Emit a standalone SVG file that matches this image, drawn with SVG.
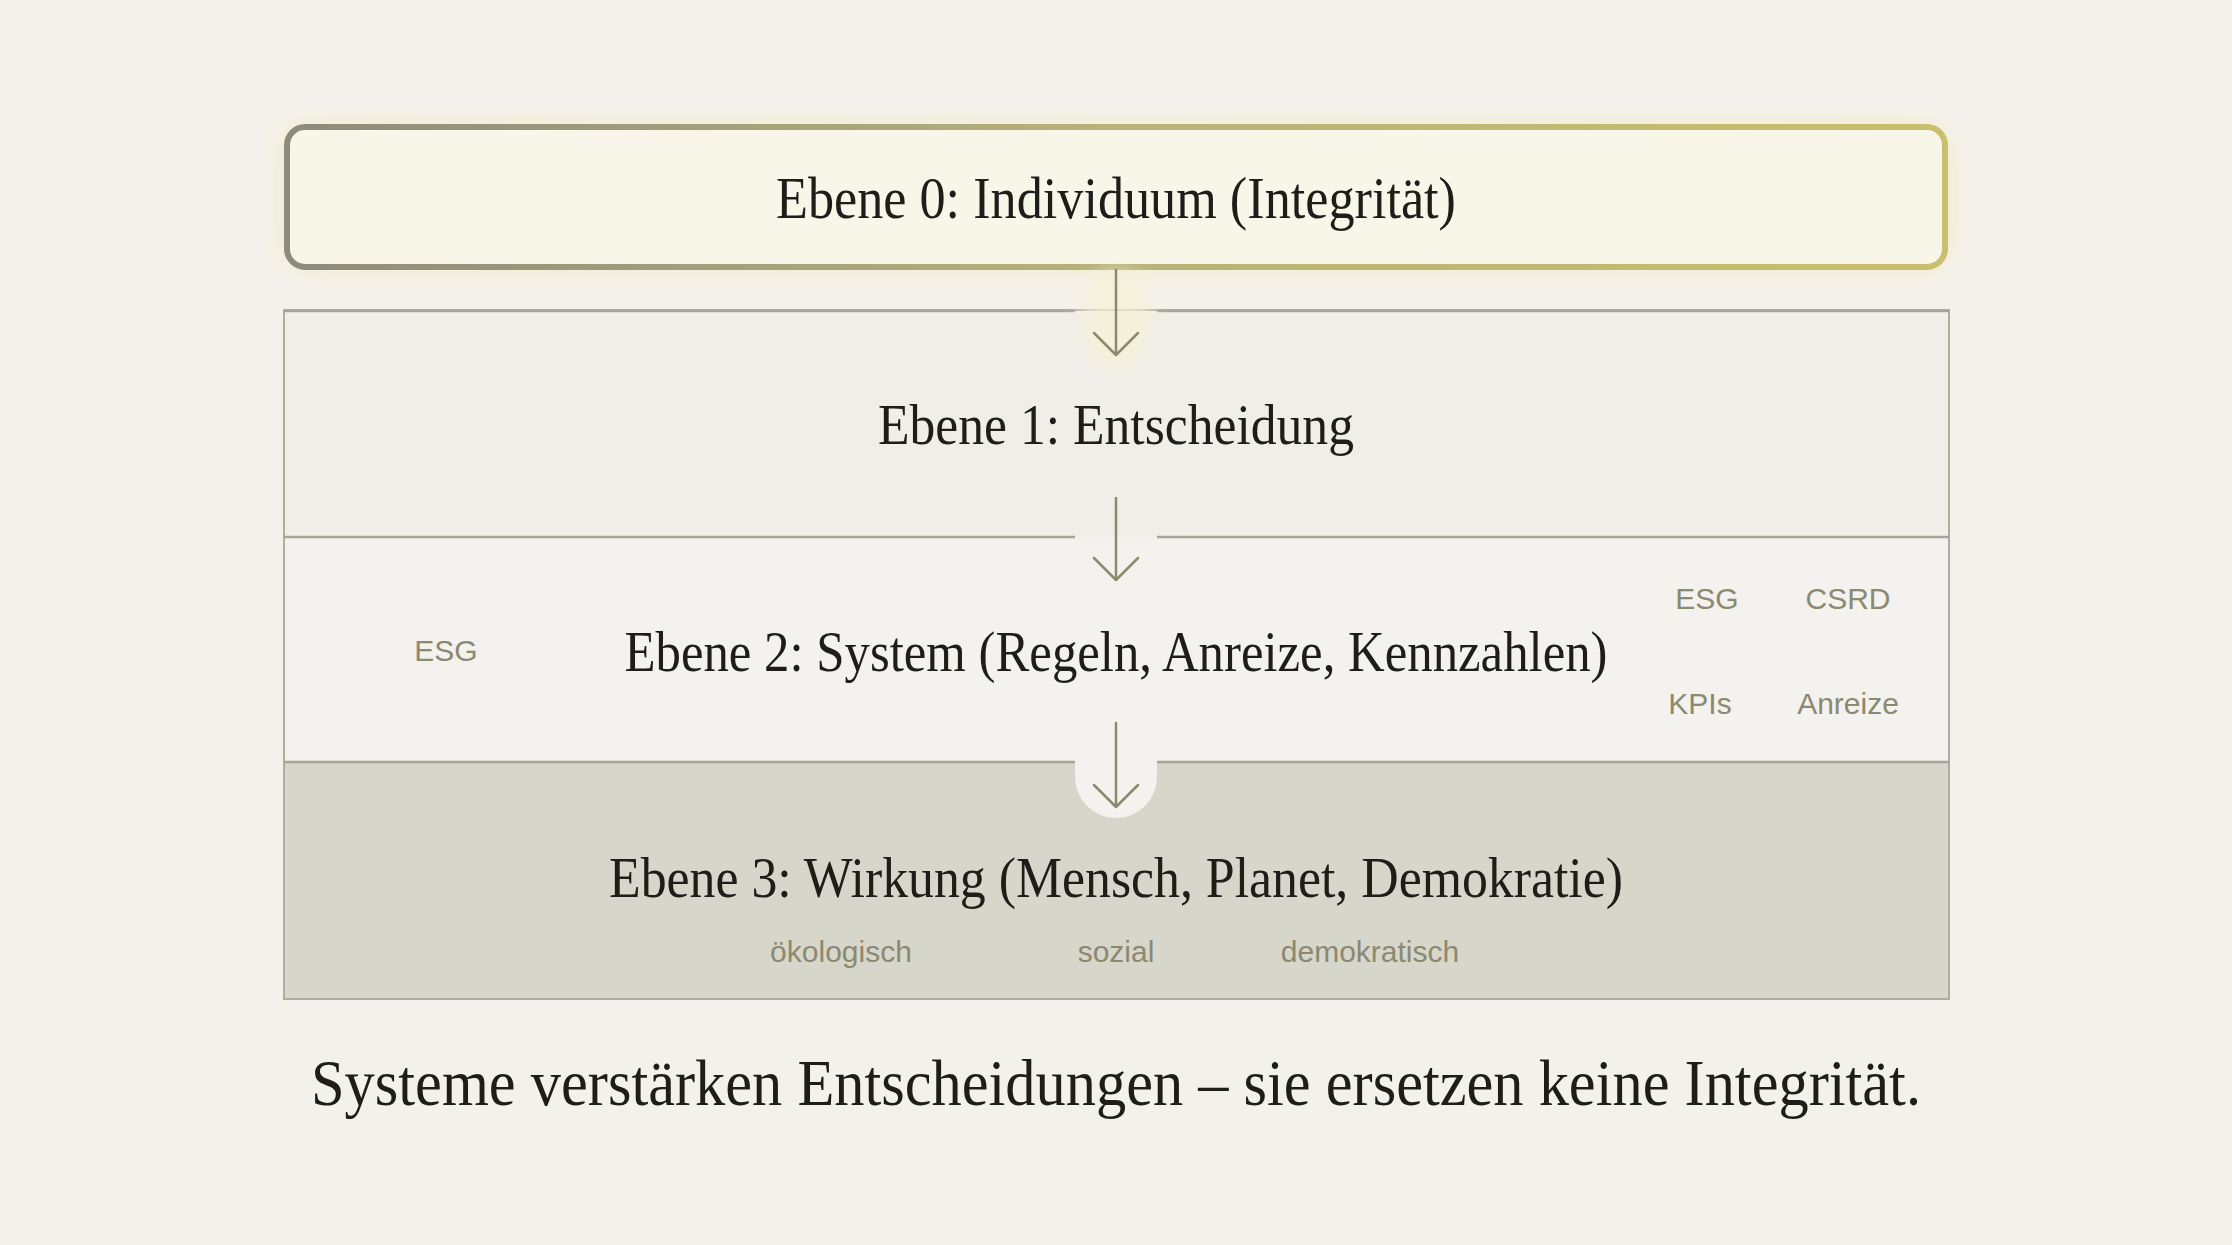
<svg xmlns="http://www.w3.org/2000/svg" width="2232" height="1245" viewBox="0 0 2232 1245">
<defs>
<style>
.title{font-family:"Liberation Serif","DejaVu Serif",serif;fill:#1d1d19;text-anchor:middle}
.tag{font-family:"Liberation Sans",Arial,sans-serif;font-size:30px;fill:#8b8970;text-anchor:middle}
.div{stroke:#a6a59a;stroke-width:2.5;fill:none}
.arrow{stroke:#8c8a6c;stroke-width:2.5;fill:none;stroke-linecap:round;stroke-linejoin:round}
</style>
<linearGradient id="topStroke" x1="0" y1="0" x2="1" y2="0">
<stop offset="0" stop-color="#8c8c7c"/>
<stop offset="0.5" stop-color="#b8b27a"/>
<stop offset="1" stop-color="#c9bf6c"/>
</linearGradient>
<filter id="glow" x="-10%" y="-60%" width="120%" height="220%">
<feGaussianBlur stdDeviation="14"/>
</filter>
<filter id="halo" x="-100%" y="-100%" width="300%" height="300%">
<feGaussianBlur stdDeviation="10"/>
</filter>
</defs>
<rect width="2232" height="1245" fill="#f3f1ec"/>

<g id="stack">
<rect x="284" y="310" width="1665" height="227" fill="#efeee9"/>
<rect x="284" y="537" width="1665" height="225" fill="#f3f2ee"/>
<rect x="284" y="762" width="1665" height="237" fill="#d7d6cb"/>
<rect x="284" y="310" width="1665" height="689" fill="none" stroke="#aeada2" stroke-width="2"/>
</g>

<g id="level0">
<rect x="285" y="127" width="1662" height="140" rx="20" fill="#f2e9a0" opacity="0.55" filter="url(#glow)"/>
<rect x="287" y="127" width="1658" height="140" rx="18" fill="#f8f6e9" stroke="url(#topStroke)" stroke-width="6"/>
<text class="title" x="1116" y="218" font-size="60" textLength="680" lengthAdjust="spacingAndGlyphs">Ebene 0: Individuum (Integrität)</text>
</g>

<g id="level1">
<text class="title" x="1116" y="444" font-size="58" textLength="476" lengthAdjust="spacingAndGlyphs">Ebene 1: Entscheidung</text>
</g>

<g id="level2">
<text class="title" x="1116" y="671" font-size="58" textLength="983" lengthAdjust="spacingAndGlyphs">Ebene 2: System (Regeln, Anreize, Kennzahlen)</text>
<text class="tag" x="446" y="661">ESG</text>
<text class="tag" x="1707" y="609">ESG</text>
<text class="tag" x="1848" y="609">CSRD</text>
<text class="tag" x="1700" y="714">KPIs</text>
<text class="tag" x="1848" y="714">Anreize</text>
</g>

<g id="level3">
<path d="M1075 760 L1075 777 A41 41 0 0 0 1157 777 L1157 760 Z" fill="#f3f2ee"/>
<text class="title" x="1116" y="897" font-size="58" textLength="1014" lengthAdjust="spacingAndGlyphs">Ebene 3: Wirkung (Mensch, Planet, Demokratie)</text>
<text class="tag" x="841" y="962">ökologisch</text>
<text class="tag" x="1116" y="962">sozial</text>
<text class="tag" x="1370" y="962">demokratisch</text>
</g>

<g id="dividers">
<path class="div" d="M284 311 H1075 M1157 311 H1949"/>
<path class="div" d="M284 537 H1075 M1157 537 H1949"/>
<path class="div" d="M284 762 H1075 M1157 762 H1949"/>
</g>

<g id="connectors">
<ellipse cx="1116" cy="320" rx="36" ry="50" fill="#f6f1d4" opacity="0.7" filter="url(#halo)"/>
<path class="arrow" d="M1116 270 V355 M1094 333 L1116 355 L1138 333"/>
<path class="arrow" d="M1116 498 V580 M1094 558 L1116 580 L1138 558"/>
<path class="arrow" d="M1116 723 V807 M1094 785 L1116 807 L1138 785"/>
</g>

<g id="caption">
<text class="title" x="1116" y="1105" font-size="66" textLength="1610" lengthAdjust="spacingAndGlyphs">Systeme verstärken Entscheidungen – sie ersetzen keine Integrität.</text>
</g>
</svg>
